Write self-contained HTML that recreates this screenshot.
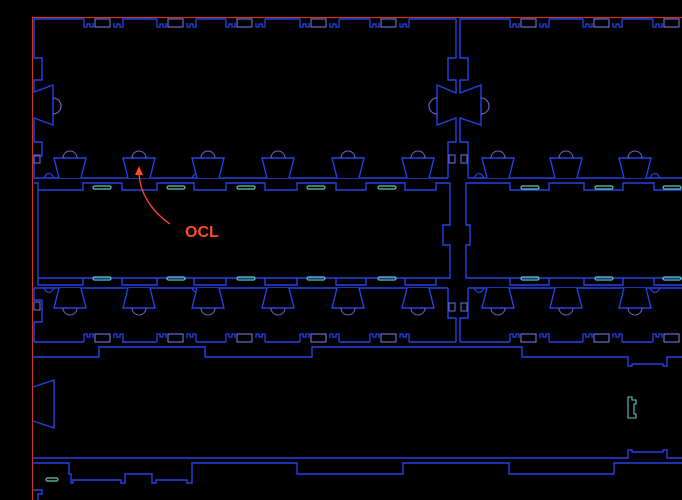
<!DOCTYPE html>
<html><head><meta charset="utf-8"><style>
html,body{margin:0;padding:0;background:#000;width:682px;height:500px;overflow:hidden}
svg{display:block}
</style></head><body>
<svg width="682" height="500" viewBox="0 0 682 500" xmlns="http://www.w3.org/2000/svg">
<defs>
<g id="tzU"><path d="M-11,20 L-16,0 L16,0 L11,20" fill="#000" stroke="#2242e6" stroke-width="1.4"/><path d="M-7,0 A7,7 0 0 1 7,0" fill="none" stroke="#6a6ad0" stroke-width="1"/></g>
<g id="tzD"><path d="M-11,0 L-16,20 L16,20 L11,0" fill="#000" stroke="#2242e6" stroke-width="1.4"/><path d="M-7,20 A7,7 0 0 0 7,20" fill="none" stroke="#6a6ad0" stroke-width="1"/></g>
<g id="ntop"><path d="M0,0 L0,8 L3,8 L3,5 L6,5 L6,8 L9,8 L9,4 M30,4 L30,8 L33,8 L33,5 L36,5 L36,8 L39,8 L39,0" fill="none" stroke="#2242e6" stroke-width="1.3"/><rect x="11" y="0" width="15" height="8" fill="none" stroke="#7474d8" stroke-width="1.1"/></g>
<g id="nbot"><path d="M0,0 L0,-8 L3,-8 L3,-5 L6,-5 L6,-8 L9,-8 L9,-4 M30,-4 L30,-8 L33,-8 L33,-5 L36,-5 L36,-8 L39,-8 L39,0" fill="none" stroke="#2242e6" stroke-width="1.3"/><rect x="11" y="-8" width="15" height="8" fill="none" stroke="#7474d8" stroke-width="1.1"/></g>
<rect id="slot" x="0" y="0" width="18" height="3" rx="1.5" fill="none" stroke="#5cc8b8" stroke-width="1.2"/>
<path id="bump" d="M0,0 C3,-6 7,-6 10,0" fill="none" stroke="#2242e6" stroke-width="1.2"/>
</defs>

<path d="M32.5,500 L32.5,17.5 L682,17.5" fill="none" stroke="#c83a20" stroke-width="1.2"/>

<g fill="none" stroke="#2242e6" stroke-width="1.4">
<path d="M34,19 L84,19 M122,19 L157,19 M196,19 L226,19 M265,19 L300,19 M339,19 L370,19 M409,19 L456,19 M460,19 L510,19 M549,19 L583,19 M622,19 L653,19"/>
<path d="M34,19 L34,58 L42,58 L42,80 L34,80 L34,92 L53,85 L53,125 L34,118 L34,142 L42,142 L42,156 L34,156 L34,178 L38,178"/>
<path d="M456,19 L456,58 L448,58 L448,80 L456,80 L456,93 L437,85 L437,125 L456,118 L456,142 L448,142 L448,178 M460,19 L460,58 L468,58 L468,80 L460,80 L460,93 L481,85 L481,125 L460,118 L460,142 L468,142 L468,178"/>
<path d="M38,178 L448,178 M468,178 L682,178"/>
<path d="M34,183 L38,183 L38,190 L83,190 L83,183 L122,183 L122,190 L157,190 L157,183 L194,183 L194,190 L226,190 L226,183 L265,183 L265,190 L297,190 L297,183 L336,183 L336,190 L366,190 L366,183 L405,183 L405,190 L436,190 L436,183 L450,183 L450,190"/>
<path d="M466,190 L466,183 L510,183 L510,190 L549,190 L549,183 L584,183 L584,190 L623,190 L623,183 L654,183 L654,190 L682,190"/>
<path d="M38,190 L38,278 L450,278 L450,245 L443,245 L443,225 L450,225 L450,190"/>
<path d="M466,190 L466,225 L470,225 L470,245 L466,245 L466,278 L682,278"/>
<path d="M38,278 L38,285 L83,285 L83,278 M122,278 L122,285 L157,285 L157,278 M194,278 L194,285 L226,285 L226,278 M265,278 L265,285 L297,285 L297,278 M336,278 L336,285 L366,285 L366,278 M405,278 L405,285 L436,285 L436,278 M510,278 L510,285 L549,285 L549,278 M584,278 L584,285 L623,285 L623,278 M654,278 L654,285 L682,285"/>
<path d="M34,288 L448,288 M468,288 L682,288"/>
<path d="M448,288 L448,318 L456,318 L456,342 M468,288 L468,318 L460,318 L460,342"/>
<path d="M34,288 L34,300 L42,300 L42,322 L34,322 L34,342"/>
<path d="M34,342 L84,342 M122,342 L157,342 M196,342 L226,342 M265,342 L300,342 M339,342 L370,342 M409,342 L456,342 M460,342 L510,342 M549,342 L583,342 M622,342 L653,342"/>
<path d="M33,357 L99,357 L99,347 L205,347 L205,357 L312,357 L312,347 L522,347 L522,357 L628,357 L628,366 L632,366 L632,364 L663,364 L663,366 L667,366 L667,357 L682,357"/>
<path d="M33,458 L628,458 L628,450 L632,450 L632,452 L663,452 L663,450 L667,450 L667,458 L682,458"/>
<path d="M33,387 L54,380 L54,428 L33,421"/>
<path d="M33,463 L69,463 L69,474 L71,474 L71,483 L73,483 L73,480 L121,480 L121,483 L125,483 L125,474 L152,474 L152,483 L156,483 L156,480 L187,480 L187,483 L192,483 L192,463 L297,463 L297,474 L403,474 L403,463 L509,463 L509,474 L614,474 L614,463 L682,463"/>
<path d="M33,490 L42,490 L42,494 L38,494 L38,500"/>
</g>

<use href="#bump" x="44" y="178"/><use href="#bump" x="192" y="178"/><use href="#bump" x="418" y="178"/><use href="#bump" x="474" y="178"/><use href="#bump" x="650" y="178"/>
<g transform="translate(0,466) scale(1,-1)"><use href="#bump" x="44" y="178"/><use href="#bump" x="192" y="178"/><use href="#bump" x="418" y="178"/><use href="#bump" x="474" y="178"/><use href="#bump" x="650" y="178"/></g>

<use href="#ntop" x="84" y="19"/><use href="#ntop" x="157" y="19"/><use href="#ntop" x="226" y="19"/><use href="#ntop" x="300" y="19"/><use href="#ntop" x="370" y="19"/>
<use href="#ntop" x="510" y="19"/><use href="#ntop" x="583" y="19"/><use href="#ntop" x="653" y="19"/>
<use href="#nbot" x="84" y="342"/><use href="#nbot" x="157" y="342"/><use href="#nbot" x="226" y="342"/><use href="#nbot" x="300" y="342"/><use href="#nbot" x="370" y="342"/>
<use href="#nbot" x="510" y="342"/><use href="#nbot" x="583" y="342"/><use href="#nbot" x="653" y="342"/>

<use href="#tzU" x="70" y="158"/><use href="#tzU" x="139" y="158"/><use href="#tzU" x="208" y="158"/><use href="#tzU" x="278" y="158"/><use href="#tzU" x="348" y="158"/><use href="#tzU" x="418" y="158"/><use href="#tzU" x="498" y="158"/><use href="#tzU" x="566" y="158"/><use href="#tzU" x="635" y="158"/>
<use href="#tzD" x="70" y="288"/><use href="#tzD" x="139" y="288"/><use href="#tzD" x="208" y="288"/><use href="#tzD" x="278" y="288"/><use href="#tzD" x="348" y="288"/><use href="#tzD" x="418" y="288"/><use href="#tzD" x="498" y="288"/><use href="#tzD" x="566" y="288"/><use href="#tzD" x="635" y="288"/>

<g fill="none" stroke="#6a6ad0" stroke-width="1.1">
<path d="M53,98 A8,8 0 0 1 53,114"/>
<path d="M437,98 A8,8 0 0 0 437,114"/>
<path d="M481,98 A8,8 0 0 1 481,114"/>
<rect x="34" y="155" width="6" height="8"/><rect x="34" y="302" width="6" height="8"/>
<rect x="449" y="155" width="6" height="8"/><rect x="461" y="155" width="6" height="8"/>
<rect x="449" y="303" width="6" height="8"/><rect x="461" y="303" width="6" height="8"/>
</g>

<g>
<use href="#slot" x="93" y="186"/><use href="#slot" x="167" y="186"/><use href="#slot" x="237" y="186"/><use href="#slot" x="307" y="186"/><use href="#slot" x="378" y="186"/><use href="#slot" x="521" y="186"/><use href="#slot" x="595" y="186"/><use href="#slot" x="663" y="186"/>
<use href="#slot" x="93" y="277"/><use href="#slot" x="167" y="277"/><use href="#slot" x="237" y="277"/><use href="#slot" x="307" y="277"/><use href="#slot" x="378" y="277"/><use href="#slot" x="521" y="277"/><use href="#slot" x="595" y="277"/><use href="#slot" x="663" y="277"/>
<rect x="46" y="478" width="12" height="3" rx="1.5" fill="none" stroke="#5cc8b8" stroke-width="1.2"/>
</g>
<path d="M628,397 L632,397 L632,400 L636,400 L636,404 L634,404 L634,414 L636,414 L636,418 L628,418 Z" fill="none" stroke="#5cc8b8" stroke-width="1.1"/>

<path d="M170,224 C150,210 140,192 139,174" fill="none" stroke="#ff4a2a" stroke-width="1.3"/>
<path d="M139,166 L135,175 L143,175 Z" fill="#ff4a2a"/>
<text x="185" y="237" font-family="Liberation Sans, sans-serif" font-weight="bold" font-size="16" fill="#ff4a2a">OCL</text>
</svg>
</body></html>
